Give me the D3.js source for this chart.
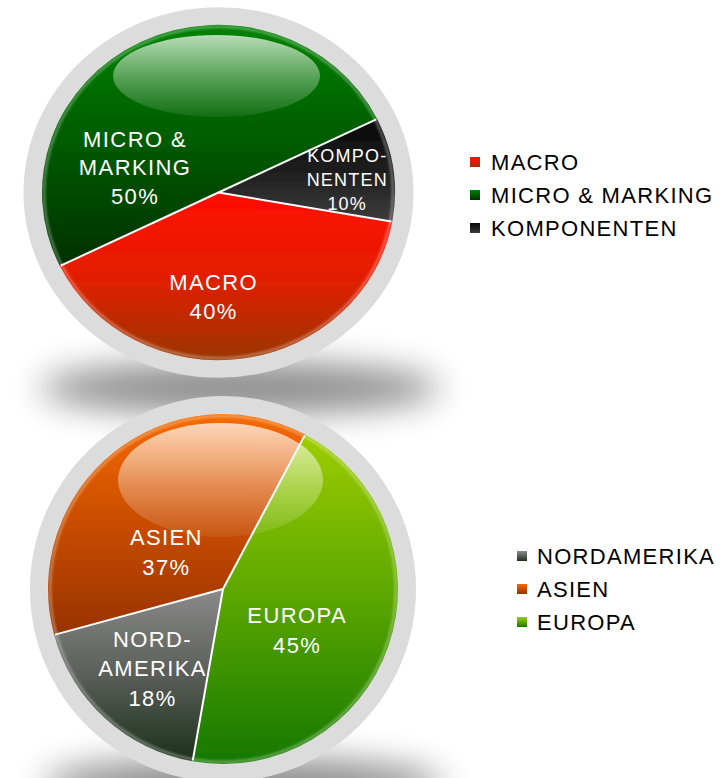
<!DOCTYPE html>
<html><head><meta charset="utf-8">
<script src="https://cdn.jsdelivr.net/npm/d3@7"></script>
<style>body{margin:0;background:#fff}svg{display:block}</style>
</head><body>
<svg id="c" width="724" height="778"></svg>
<script>
// ---- data ----
const topCategories = ["MACRO", "MICRO & MARKING", "KOMPONENTEN"];
const topValues = [40, 50, 10];
const topLabelLines = [["MACRO"], ["MICRO &", "MARKING"], ["KOMPO-", "NENTEN"]];
const topColors = [
  ["#ff0e00", "#e41e00", "#9a3600"],
  ["#008200", "#005a00", "#003000"],
  ["#080808", "#1e1e1e", "#3c3c3c"]
];
const bottomCategories = ["NORDAMERIKA", "ASIEN", "EUROPA"];
const bottomValues = [18, 37, 45];
const bottomLabelLines = [["NORD-", "AMERIKA"], ["ASIEN"], ["EUROPA"]];
const bottomColors = [
  ["#8a8a8a", "#5a5e59", "#1b301b"],
  ["#f66a00", "#c84c00", "#983200"],
  ["#9ecd00", "#5aa600", "#157800"]
];

// ---- layout ----
const FONT = '"Liberation Sans", Arial, sans-serif';
const charts = [
  {
    id: "t", cats: topCategories, vals: topValues, lines: topLabelLines, colors: topColors,
    cx: 218.5, cy: 192.5, sy: 0.95, r: 176.5, ring: 195, startDeg: 100,
    labels: [{d: 10.9, f: 0.62, fs: 22, ls: 1.4, lh: 29}, {d: -46.4, f: 0.50, fs: 22, ls: 1.4, lh: 28.5}, {d: 2, f: 0.73, fs: 18, ls: 1.2, lh: 24}],
    gloss: {cx: 216.5, cy: 76, rx: 103.5, ry: 41},
    shadow: {cx: 240, cy: 388, rx: 200, ry: 26},
    legend: {x: 470, tx: 491, y: 170, dy: 33}
  },
  {
    id: "b", cats: bottomCategories, vals: bottomValues, lines: bottomLabelLines, colors: bottomColors,
    cx: 223, cy: 589, sy: 1, r: 175, ring: 193, startDeg: 190,
    labels: [{d: -0.6, f: 0.61, fs: 22, ls: 1.4, lh: 29.5}, {d: -18.5, f: 0.39, fs: 22, ls: 1.4, lh: 30}, {d: 10, f: 0.48, fs: 22, ls: 1.4, lh: 30}],
    gloss: {cx: 220.5, cy: 480, rx: 102.5, ry: 57},
    shadow: {cx: 243, cy: 784, rx: 200, ry: 26},
    legend: {x: 517, tx: 537, y: 564, dy: 33}
  }
];

const svg = d3.select("#c");
const defs = svg.append("defs");
const shF = defs.append("filter").attr("id", "shadowBlur").attr("x", "-50%").attr("y", "-200%").attr("width", "200%").attr("height", "500%");
shF.append("feGaussianBlur").attr("stdDeviation", 17);
const softF = defs.append("filter").attr("id", "soft").attr("x", "-5%").attr("y", "-5%").attr("width", "110%").attr("height", "110%");
softF.append("feGaussianBlur").attr("stdDeviation", 0.7);
const rimF = defs.append("filter").attr("id", "rim").attr("x", "-5%").attr("y", "-5%").attr("width", "110%").attr("height", "110%");
rimF.append("feGaussianBlur").attr("stdDeviation", 1.2);
const gl = defs.append("linearGradient").attr("id", "gloss").attr("x1", 0).attr("y1", 0).attr("x2", 0).attr("y2", 1);
gl.append("stop").attr("offset", 0).attr("stop-color", "#fff").attr("stop-opacity", 0.72);
gl.append("stop").attr("offset", 0.55).attr("stop-color", "#fff").attr("stop-opacity", 0.32);
gl.append("stop").attr("offset", 1).attr("stop-color", "#fff").attr("stop-opacity", 0.07);

const rad = d => d * Math.PI / 180;

charts.forEach(c => {
  c.colors.forEach((cols, i) => {
    const g = defs.append("linearGradient").attr("id", `g${c.id}${i}`)
      .attr("x1", 0).attr("y1", 0).attr("x2", 0).attr("y2", 1);
    cols.forEach((col, k) => g.append("stop").attr("offset", k / (cols.length - 1)).attr("stop-color", col));
  });
  svg.append("ellipse").attr("cx", c.shadow.cx).attr("cy", c.shadow.cy)
    .attr("rx", c.shadow.rx).attr("ry", c.shadow.ry)
    .attr("fill", "#000").attr("opacity", 0.45).attr("filter", "url(#shadowBlur)");
});

charts.forEach(c => {
  const total = d3.sum(c.vals);
  const pie = d3.pie().sort(null).startAngle(rad(c.startDeg)).endAngle(rad(c.startDeg) + 2 * Math.PI);
  const arcs = pie(c.vals);
  const arc = d3.arc().innerRadius(0).outerRadius(c.r);

  const g = svg.append("g").attr("transform", `translate(${c.cx},${c.cy}) scale(1,${c.sy})`);
  g.append("circle").attr("r", c.ring).attr("fill", "#dcdcdc");

  const pg = g.append("g").attr("filter", "url(#soft)");
  pg.selectAll("path").data(arcs).join("path")
    .attr("d", arc)
    .attr("fill", (d, i) => `url(#g${c.id}${i})`);

  g.append("circle").attr("r", c.r - 2).attr("fill", "none")
    .attr("stroke", "#fff").attr("stroke-opacity", 0.3).attr("stroke-width", 3)
    .attr("filter", "url(#rim)");

  const pt = (a, R) => [R * Math.sin(a), -R * Math.cos(a)];
  g.selectAll("line.sep").data(arcs).join("line").attr("class", "sep")
    .attr("x1", 0).attr("y1", 0)
    .attr("x2", d => pt(d.startAngle, c.r - 1)[0])
    .attr("y2", d => pt(d.startAngle, c.r - 1)[1])
    .attr("stroke", "#fff").attr("stroke-width", 2).attr("vector-effect", "non-scaling-stroke");

  svg.append("ellipse").attr("cx", c.gloss.cx).attr("cy", c.gloss.cy)
    .attr("rx", c.gloss.rx).attr("ry", c.gloss.ry).attr("fill", "url(#gloss)");

  arcs.forEach((d, i) => {
    const L = c.labels[i];
    const a = (d.startAngle + d.endAngle) / 2 + rad(L.d);
    const R = L.f * c.r;
    const px = c.cx + R * Math.sin(a);
    const py = c.cy - R * Math.cos(a) * c.sy;
    const lines = c.lines[i].concat([d3.format(".0f")(d.data / total * 100) + "%"]);
    const cap = 0.716 * L.fs;
    const y0 = py - (lines.length - 1) * L.lh / 2 + cap / 2;
    const t = svg.append("text").attr("text-anchor", "middle")
      .attr("font-family", FONT).attr("font-size", L.fs)
      .attr("letter-spacing", L.ls).attr("fill", "#fff");
    lines.forEach((s, k) => t.append("tspan").attr("x", px + L.ls / 2).attr("y", y0 + k * L.lh).text(s));
  });

  const lg = svg.append("g");
  c.cats.forEach((name, i) => {
    const by = c.legend.y + i * c.legend.dy;
    lg.append("rect").attr("x", c.legend.x).attr("y", by - 8 - 5).attr("width", 10).attr("height", 10)
      .attr("fill", `url(#g${c.id}${i})`);
    lg.append("text").attr("x", c.legend.tx).attr("y", by)
      .attr("font-family", FONT).attr("font-size", 22).attr("letter-spacing", 1.3)
      .attr("fill", "#000").text(name);
  });
});
</script>
</body></html>
